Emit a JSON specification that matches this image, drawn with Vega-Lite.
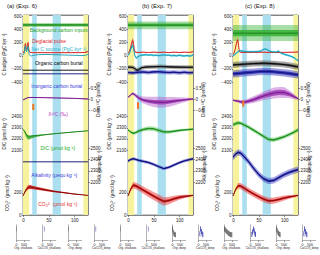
{
"$schema":"https://vega.github.io/schema/vega-lite/v6.json",
"padding":{"left":-18,"top":2,"right":18,"bottom":0},
"spacing":2,
"vconcat":[
{"hconcat":[
{"width":1,"height":200,"view":{"stroke":null},"data":{"values":[]},"mark":{"type":"point"}},
{"width":65,"height":200,
"title":{"text":"(a) (Exp. 6)","anchor":"start","frame":"group","dx":-16,"offset":4.5},
"layer":[
{"data":{"name":"bands"},"transform":[{"filter":"datum.k=='yel'"}],"mark":{"type":"rect","color":"#f7f39c"},"encoding":{"x":{"field":"x0","type":"quantitative","scale":{"domain":[0,127],"nice":false},"axis":{"values":[0,50,100],"title":null}},"x2":{"field":"x1"}}},
{"data":{"name":"bands"},"transform":[{"filter":"datum.k=='blu'"}],"mark":{"type":"rect","color":"#abdff0"},"encoding":{"x":{"field":"x0","type":"quantitative","scale":{"domain":[0,127],"nice":false},"axis":{"values":[0,50,100],"title":null}},"x2":{"field":"x1"}}},
{"data":{"name":"cb"},"transform":[{"filter":"datum.c=='a'"}],"layer":[
{"mark":{"type":"area","opacity":0.45},"encoding":{"x":{"field":"x","type":"quantitative","scale":{"domain":[0,127],"nice":false},"axis":{"values":[0,50,100],"title":null}},"y":{"field":"L","type":"quantitative","stack":null,"scale":{"domain":[-550,600],"range":[77,1],"nice":false},"axis":{"orient":"left","values":[-400,-200,0,200,400,600],"title":"C budget (PgC kyr⁻¹)"}},"y2":{"field":"H"},"fill":{"field":"s","type":"nominal","scale":{"domain":["grn","red","cyn","org","inorg"],"range":["#3cb43c","#f07070","#5ccbe0","#444444","#2c2cb4"]},"legend":null}}},
{"mark":{"type":"area","opacity":0.9},"encoding":{"x":{"field":"x","type":"quantitative","scale":{"domain":[0,127],"nice":false},"axis":{"values":[0,50,100],"title":null}},"y":{"field":"l","type":"quantitative","stack":null,"scale":{"domain":[-550,600],"range":[77,1],"nice":false},"axis":{"orient":"left","values":[-400,-200,0,200,400,600],"title":"C budget (PgC kyr⁻¹)"}},"y2":{"field":"h"},"fill":{"field":"s","type":"nominal","scale":{"domain":["grn","red","cyn","org","inorg"],"range":["#3cb43c","#f07070","#5ccbe0","#444444","#2c2cb4"]},"legend":null}}},
{"mark":{"type":"line","strokeWidth":0.9},"encoding":{"x":{"field":"x","type":"quantitative","scale":{"domain":[0,127],"nice":false},"axis":{"values":[0,50,100],"title":null}},"y":{"field":"m","type":"quantitative","scale":{"domain":[-550,600],"range":[77,1],"nice":false},"axis":{"orient":"left","values":[-400,-200,0,200,400,600],"title":"C budget (PgC kyr⁻¹)"}},"stroke":{"field":"s","type":"nominal","scale":{"domain":["grn","red","cyn","org","inorg"],"range":["#177a17","#d42020","#109cb0","#000000","#0c0c78"]},"legend":null}}},
{"data":{"name":"txt"},"transform":[{"filter":"datum.c=='a' && datum.g=='cb'"}],"mark":{"type":"text","fontSize":5},"encoding":{"x":{"field":"x","type":"quantitative","scale":{"domain":[0,127],"nice":false},"axis":{"values":[0,50,100],"title":null}},"y":{"field":"y","type":"quantitative","scale":{"domain":[-550,600],"range":[77,1],"nice":false},"axis":{"orient":"left","values":[-400,-200,0,200,400,600],"title":"C budget (PgC kyr⁻¹)"}},"text":{"field":"t"},"color":{"field":"s","type":"nominal","scale":{"domain":["grn","red","cyn","org","inorg"],"range":["#2ca02c","#e3262b","#1fb0c9","#000000","#3b3bd6"]},"legend":null}}}
]},
{"data":{"name":"d13"},"transform":[{"filter":"datum.c=='a'"}],"layer":[
{"mark":{"type":"area","color":"#b455c8","opacity":0.45},"encoding":{"x":{"field":"x","type":"quantitative","scale":{"domain":[0,127],"nice":false},"axis":{"values":[0,50,100],"title":null}},"y":{"field":"L","type":"quantitative","stack":null,"scale":{"domain":[-0.5,0.5],"range":[95,73],"nice":false},"axis":{"orient":"right","values":[-0.5,0,0.5],"format":".1~f","title":"Delta ¹³C (permil)","titleAngle":270}},"y2":{"field":"H"}}},
{"mark":{"type":"area","color":"#a03ab5","opacity":0.85},"encoding":{"x":{"field":"x","type":"quantitative","scale":{"domain":[0,127],"nice":false},"axis":{"values":[0,50,100],"title":null}},"y":{"field":"l","type":"quantitative","stack":null,"scale":{"domain":[-0.5,0.5],"range":[95,73],"nice":false},"axis":{"orient":"right","values":[-0.5,0,0.5],"format":".1~f","title":"Delta ¹³C (permil)","titleAngle":270}},"y2":{"field":"h"}}},
{"mark":{"type":"line","color":"#6a0a7a","strokeWidth":0.8},"encoding":{"x":{"field":"x","type":"quantitative","scale":{"domain":[0,127],"nice":false},"axis":{"values":[0,50,100],"title":null}},"y":{"field":"m","type":"quantitative","scale":{"domain":[-0.5,0.5],"range":[95,73],"nice":false},"axis":{"orient":"right","values":[-0.5,0,0.5],"format":".1~f","title":"Delta ¹³C (permil)","titleAngle":270}}}},
{"data":{"name":"mk"},"transform":[{"filter":"datum.c=='a'"}],"mark":{"type":"rule","color":"#ee7722","strokeWidth":2},"encoding":{"x":{"field":"x","type":"quantitative","scale":{"domain":[0,127],"nice":false},"axis":{"values":[0,50,100],"title":null}},"y":{"field":"l","type":"quantitative","scale":{"domain":[-0.5,0.5],"range":[95,73],"nice":false},"axis":{"orient":"right","values":[-0.5,0,0.5],"format":".1~f","title":"Delta ¹³C (permil)","titleAngle":270}},"y2":{"field":"h"}}},
{"data":{"name":"txt"},"transform":[{"filter":"datum.c=='a' && datum.g=='d13'"}],"mark":{"type":"text","fontSize":5,"color":"#c040c0"},"encoding":{"x":{"field":"x","type":"quantitative","scale":{"domain":[0,127],"nice":false},"axis":{"values":[0,50,100],"title":null}},"y":{"field":"y","type":"quantitative","scale":{"domain":[-0.5,0.5],"range":[95,73],"nice":false},"axis":{"orient":"right","values":[-0.5,0,0.5],"format":".1~f","title":"Delta ¹³C (permil)","titleAngle":270}},"text":{"field":"t"}}}
]},
{"data":{"name":"dic"},"transform":[{"filter":"datum.c=='a'"}],"layer":[
{"mark":{"type":"area","color":"#44bb44","opacity":0.45},"encoding":{"x":{"field":"x","type":"quantitative","scale":{"domain":[0,127],"nice":false},"axis":{"values":[0,50,100],"title":null}},"y":{"field":"L","type":"quantitative","stack":null,"scale":{"domain":[2100,2400],"range":[135.3,101.3],"nice":false},"axis":{"orient":"left","values":[2100,2200,2300,2400],"title":"DIC (μmol kg⁻¹)"}},"y2":{"field":"H"}}},
{"mark":{"type":"area","color":"#2eaa2e","opacity":0.85},"encoding":{"x":{"field":"x","type":"quantitative","scale":{"domain":[0,127],"nice":false},"axis":{"values":[0,50,100],"title":null}},"y":{"field":"l","type":"quantitative","stack":null,"scale":{"domain":[2100,2400],"range":[135.3,101.3],"nice":false},"axis":{"orient":"left","values":[2100,2200,2300,2400],"title":"DIC (μmol kg⁻¹)"}},"y2":{"field":"h"}}},
{"mark":{"type":"line","color":"#137a13","strokeWidth":0.8},"encoding":{"x":{"field":"x","type":"quantitative","scale":{"domain":[0,127],"nice":false},"axis":{"values":[0,50,100],"title":null}},"y":{"field":"m","type":"quantitative","scale":{"domain":[2100,2400],"range":[135.3,101.3],"nice":false},"axis":{"orient":"left","values":[2100,2200,2300,2400],"title":"DIC (μmol kg⁻¹)"}}}},
{"data":{"name":"txt"},"transform":[{"filter":"datum.c=='a' && datum.g=='dic'"}],"mark":{"type":"text","fontSize":5,"color":"#22aa22"},"encoding":{"x":{"field":"x","type":"quantitative","scale":{"domain":[0,127],"nice":false},"axis":{"values":[0,50,100],"title":null}},"y":{"field":"y","type":"quantitative","scale":{"domain":[2100,2400],"range":[135.3,101.3],"nice":false},"axis":{"orient":"left","values":[2100,2200,2300,2400],"title":"DIC (μmol kg⁻¹)"}},"text":{"field":"t"}}}
]},
{"data":{"name":"alk"},"transform":[{"filter":"datum.c=='a'"}],"layer":[
{"mark":{"type":"area","color":"#3535c0","opacity":0.45},"encoding":{"x":{"field":"x","type":"quantitative","scale":{"domain":[0,127],"nice":false},"axis":{"values":[0,50,100],"title":null}},"y":{"field":"L","type":"quantitative","stack":null,"scale":{"domain":[2200,2500],"range":[167,133],"nice":false},"axis":{"orient":"right","values":[2200,2300,2400,2500],"title":"Alk (μequ kg⁻¹)","titleAngle":270}},"y2":{"field":"H"}}},
{"mark":{"type":"area","color":"#2525a8","opacity":0.9},"encoding":{"x":{"field":"x","type":"quantitative","scale":{"domain":[0,127],"nice":false},"axis":{"values":[0,50,100],"title":null}},"y":{"field":"l","type":"quantitative","stack":null,"scale":{"domain":[2200,2500],"range":[167,133],"nice":false},"axis":{"orient":"right","values":[2200,2300,2400,2500],"title":"Alk (μequ kg⁻¹)","titleAngle":270}},"y2":{"field":"h"}}},
{"mark":{"type":"line","color":"#0a0a6a","strokeWidth":0.9},"encoding":{"x":{"field":"x","type":"quantitative","scale":{"domain":[0,127],"nice":false},"axis":{"values":[0,50,100],"title":null}},"y":{"field":"m","type":"quantitative","scale":{"domain":[2200,2500],"range":[167,133],"nice":false},"axis":{"orient":"right","values":[2200,2300,2400,2500],"title":"Alk (μequ kg⁻¹)","titleAngle":270}}}},
{"data":{"name":"txt"},"transform":[{"filter":"datum.c=='a' && datum.g=='alk'"}],"mark":{"type":"text","fontSize":5,"color":"#3b3bd6"},"encoding":{"x":{"field":"x","type":"quantitative","scale":{"domain":[0,127],"nice":false},"axis":{"values":[0,50,100],"title":null}},"y":{"field":"y","type":"quantitative","scale":{"domain":[2200,2500],"range":[167,133],"nice":false},"axis":{"orient":"right","values":[2200,2300,2400,2500],"title":"Alk (μequ kg⁻¹)","titleAngle":270}},"text":{"field":"t"}}}
]},
{"data":{"name":"co3"},"transform":[{"filter":"datum.c=='a'"}],"layer":[
{"mark":{"type":"area","color":"#ee3333","opacity":0.5},"encoding":{"x":{"field":"x","type":"quantitative","scale":{"domain":[0,127],"nice":false},"axis":{"values":[0,50,100],"title":null}},"y":{"field":"L","type":"quantitative","stack":null,"scale":{"domain":[0,400],"range":[200,155.4],"nice":false},"axis":{"orient":"left","values":[0,200],"title":"CO₃²⁻ (μmol kg⁻¹)"}},"y2":{"field":"H"}}},
{"mark":{"type":"area","color":"#d42020","opacity":0.9},"encoding":{"x":{"field":"x","type":"quantitative","scale":{"domain":[0,127],"nice":false},"axis":{"values":[0,50,100],"title":null}},"y":{"field":"l","type":"quantitative","stack":null,"scale":{"domain":[0,400],"range":[200,155.4],"nice":false},"axis":{"orient":"left","values":[0,200],"title":"CO₃²⁻ (μmol kg⁻¹)"}},"y2":{"field":"h"}}},
{"mark":{"type":"line","color":"#7a0000","strokeWidth":0.9},"encoding":{"x":{"field":"x","type":"quantitative","scale":{"domain":[0,127],"nice":false},"axis":{"values":[0,50,100],"title":null}},"y":{"field":"m","type":"quantitative","scale":{"domain":[0,400],"range":[200,155.4],"nice":false},"axis":{"orient":"left","values":[0,200],"title":"CO₃²⁻ (μmol kg⁻¹)"}}}},
{"data":{"name":"txt"},"transform":[{"filter":"datum.c=='a' && datum.g=='co3'"}],"mark":{"type":"text","fontSize":5,"color":"#e03030"},"encoding":{"x":{"field":"x","type":"quantitative","scale":{"domain":[0,127],"nice":false},"axis":{"values":[0,50,100],"title":null}},"y":{"field":"y","type":"quantitative","scale":{"domain":[0,400],"range":[200,155.4],"nice":false},"axis":{"orient":"left","values":[0,200],"title":"CO₃²⁻ (μmol kg⁻¹)"}},"text":{"field":"t"}}}
]}
],
"resolve":{"scale":{"y":"independent"}}},
{"width":65,"height":200,
"title":{"text":"(b) (Exp. 7)","anchor":"start","frame":"group","dx":14,"offset":4.5},
"layer":[
{"data":{"name":"bands"},"transform":[{"filter":"datum.k=='yel'"}],"mark":{"type":"rect","color":"#f7f39c"},"encoding":{"x":{"field":"x0","type":"quantitative","scale":{"domain":[0,127],"nice":false},"axis":{"values":[0,50,100],"title":null}},"x2":{"field":"x1"}}},
{"data":{"name":"bands"},"transform":[{"filter":"datum.k=='blu'"}],"mark":{"type":"rect","color":"#abdff0"},"encoding":{"x":{"field":"x0","type":"quantitative","scale":{"domain":[0,127],"nice":false},"axis":{"values":[0,50,100],"title":null}},"x2":{"field":"x1"}}},
{"data":{"name":"cb"},"transform":[{"filter":"datum.c=='b'"}],"layer":[
{"mark":{"type":"area","opacity":0.45},"encoding":{"x":{"field":"x","type":"quantitative","scale":{"domain":[0,127],"nice":false},"axis":{"values":[0,50,100],"title":null}},"y":{"field":"L","type":"quantitative","stack":null,"scale":{"domain":[-550,600],"range":[77,1],"nice":false},"axis":{"orient":"left","values":[-400,-200,0,200,400,600],"title":"C budget (PgC kyr⁻¹)"}},"y2":{"field":"H"},"fill":{"field":"s","type":"nominal","scale":{"domain":["grn","red","cyn","org","inorg"],"range":["#3cb43c","#f07070","#5ccbe0","#444444","#2c2cb4"]},"legend":null}}},
{"mark":{"type":"area","opacity":0.9},"encoding":{"x":{"field":"x","type":"quantitative","scale":{"domain":[0,127],"nice":false},"axis":{"values":[0,50,100],"title":null}},"y":{"field":"l","type":"quantitative","stack":null,"scale":{"domain":[-550,600],"range":[77,1],"nice":false},"axis":{"orient":"left","values":[-400,-200,0,200,400,600],"title":"C budget (PgC kyr⁻¹)"}},"y2":{"field":"h"},"fill":{"field":"s","type":"nominal","scale":{"domain":["grn","red","cyn","org","inorg"],"range":["#3cb43c","#f07070","#5ccbe0","#444444","#2c2cb4"]},"legend":null}}},
{"mark":{"type":"line","strokeWidth":0.9},"encoding":{"x":{"field":"x","type":"quantitative","scale":{"domain":[0,127],"nice":false},"axis":{"values":[0,50,100],"title":null}},"y":{"field":"m","type":"quantitative","scale":{"domain":[-550,600],"range":[77,1],"nice":false},"axis":{"orient":"left","values":[-400,-200,0,200,400,600],"title":"C budget (PgC kyr⁻¹)"}},"stroke":{"field":"s","type":"nominal","scale":{"domain":["grn","red","cyn","org","inorg"],"range":["#177a17","#d42020","#109cb0","#000000","#0c0c78"]},"legend":null}}}
]},
{"data":{"name":"d13"},"transform":[{"filter":"datum.c=='b'"}],"layer":[
{"mark":{"type":"area","color":"#b455c8","opacity":0.45},"encoding":{"x":{"field":"x","type":"quantitative","scale":{"domain":[0,127],"nice":false},"axis":{"values":[0,50,100],"title":null}},"y":{"field":"L","type":"quantitative","stack":null,"scale":{"domain":[-0.5,0.5],"range":[95,73],"nice":false},"axis":{"orient":"right","values":[-0.5,0,0.5],"format":".1~f","title":"Delta ¹³C (permil)","titleAngle":270}},"y2":{"field":"H"}}},
{"mark":{"type":"area","color":"#a03ab5","opacity":0.85},"encoding":{"x":{"field":"x","type":"quantitative","scale":{"domain":[0,127],"nice":false},"axis":{"values":[0,50,100],"title":null}},"y":{"field":"l","type":"quantitative","stack":null,"scale":{"domain":[-0.5,0.5],"range":[95,73],"nice":false},"axis":{"orient":"right","values":[-0.5,0,0.5],"format":".1~f","title":"Delta ¹³C (permil)","titleAngle":270}},"y2":{"field":"h"}}},
{"mark":{"type":"line","color":"#6a0a7a","strokeWidth":0.8},"encoding":{"x":{"field":"x","type":"quantitative","scale":{"domain":[0,127],"nice":false},"axis":{"values":[0,50,100],"title":null}},"y":{"field":"m","type":"quantitative","scale":{"domain":[-0.5,0.5],"range":[95,73],"nice":false},"axis":{"orient":"right","values":[-0.5,0,0.5],"format":".1~f","title":"Delta ¹³C (permil)","titleAngle":270}}}},
{"data":{"name":"mk"},"transform":[{"filter":"datum.c=='b'"}],"mark":{"type":"rule","color":"#ee7722","strokeWidth":2},"encoding":{"x":{"field":"x","type":"quantitative","scale":{"domain":[0,127],"nice":false},"axis":{"values":[0,50,100],"title":null}},"y":{"field":"l","type":"quantitative","scale":{"domain":[-0.5,0.5],"range":[95,73],"nice":false},"axis":{"orient":"right","values":[-0.5,0,0.5],"format":".1~f","title":"Delta ¹³C (permil)","titleAngle":270}},"y2":{"field":"h"}}}
]},
{"data":{"name":"dic"},"transform":[{"filter":"datum.c=='b'"}],"layer":[
{"mark":{"type":"area","color":"#44bb44","opacity":0.45},"encoding":{"x":{"field":"x","type":"quantitative","scale":{"domain":[0,127],"nice":false},"axis":{"values":[0,50,100],"title":null}},"y":{"field":"L","type":"quantitative","stack":null,"scale":{"domain":[2100,2400],"range":[135.3,101.3],"nice":false},"axis":{"orient":"left","values":[2100,2200,2300,2400],"title":"DIC (μmol kg⁻¹)"}},"y2":{"field":"H"}}},
{"mark":{"type":"area","color":"#2eaa2e","opacity":0.85},"encoding":{"x":{"field":"x","type":"quantitative","scale":{"domain":[0,127],"nice":false},"axis":{"values":[0,50,100],"title":null}},"y":{"field":"l","type":"quantitative","stack":null,"scale":{"domain":[2100,2400],"range":[135.3,101.3],"nice":false},"axis":{"orient":"left","values":[2100,2200,2300,2400],"title":"DIC (μmol kg⁻¹)"}},"y2":{"field":"h"}}},
{"mark":{"type":"line","color":"#137a13","strokeWidth":0.8},"encoding":{"x":{"field":"x","type":"quantitative","scale":{"domain":[0,127],"nice":false},"axis":{"values":[0,50,100],"title":null}},"y":{"field":"m","type":"quantitative","scale":{"domain":[2100,2400],"range":[135.3,101.3],"nice":false},"axis":{"orient":"left","values":[2100,2200,2300,2400],"title":"DIC (μmol kg⁻¹)"}}}}
]},
{"data":{"name":"alk"},"transform":[{"filter":"datum.c=='b'"}],"layer":[
{"mark":{"type":"area","color":"#3535c0","opacity":0.45},"encoding":{"x":{"field":"x","type":"quantitative","scale":{"domain":[0,127],"nice":false},"axis":{"values":[0,50,100],"title":null}},"y":{"field":"L","type":"quantitative","stack":null,"scale":{"domain":[2200,2500],"range":[167,133],"nice":false},"axis":{"orient":"right","values":[2200,2300,2400,2500],"title":"Alk (μequ kg⁻¹)","titleAngle":270}},"y2":{"field":"H"}}},
{"mark":{"type":"area","color":"#2525a8","opacity":0.9},"encoding":{"x":{"field":"x","type":"quantitative","scale":{"domain":[0,127],"nice":false},"axis":{"values":[0,50,100],"title":null}},"y":{"field":"l","type":"quantitative","stack":null,"scale":{"domain":[2200,2500],"range":[167,133],"nice":false},"axis":{"orient":"right","values":[2200,2300,2400,2500],"title":"Alk (μequ kg⁻¹)","titleAngle":270}},"y2":{"field":"h"}}},
{"mark":{"type":"line","color":"#0a0a6a","strokeWidth":0.9},"encoding":{"x":{"field":"x","type":"quantitative","scale":{"domain":[0,127],"nice":false},"axis":{"values":[0,50,100],"title":null}},"y":{"field":"m","type":"quantitative","scale":{"domain":[2200,2500],"range":[167,133],"nice":false},"axis":{"orient":"right","values":[2200,2300,2400,2500],"title":"Alk (μequ kg⁻¹)","titleAngle":270}}}}
]},
{"data":{"name":"co3"},"transform":[{"filter":"datum.c=='b'"}],"layer":[
{"mark":{"type":"area","color":"#ee3333","opacity":0.5},"encoding":{"x":{"field":"x","type":"quantitative","scale":{"domain":[0,127],"nice":false},"axis":{"values":[0,50,100],"title":null}},"y":{"field":"L","type":"quantitative","stack":null,"scale":{"domain":[0,400],"range":[200,155.4],"nice":false},"axis":{"orient":"left","values":[0,200],"title":"CO₃²⁻ (μmol kg⁻¹)"}},"y2":{"field":"H"}}},
{"mark":{"type":"area","color":"#d42020","opacity":0.9},"encoding":{"x":{"field":"x","type":"quantitative","scale":{"domain":[0,127],"nice":false},"axis":{"values":[0,50,100],"title":null}},"y":{"field":"l","type":"quantitative","stack":null,"scale":{"domain":[0,400],"range":[200,155.4],"nice":false},"axis":{"orient":"left","values":[0,200],"title":"CO₃²⁻ (μmol kg⁻¹)"}},"y2":{"field":"h"}}},
{"mark":{"type":"line","color":"#7a0000","strokeWidth":0.9},"encoding":{"x":{"field":"x","type":"quantitative","scale":{"domain":[0,127],"nice":false},"axis":{"values":[0,50,100],"title":null}},"y":{"field":"m","type":"quantitative","scale":{"domain":[0,400],"range":[200,155.4],"nice":false},"axis":{"orient":"left","values":[0,200],"title":"CO₃²⁻ (μmol kg⁻¹)"}}}}
]}
],
"resolve":{"scale":{"y":"independent"}}},
{"width":65,"height":200,
"title":{"text":"(c) (Exp. 8)","anchor":"start","frame":"group","dx":12,"offset":4.5},
"layer":[
{"data":{"name":"bands"},"transform":[{"filter":"datum.k=='yel'"}],"mark":{"type":"rect","color":"#f7f39c"},"encoding":{"x":{"field":"x0","type":"quantitative","scale":{"domain":[0,127],"nice":false},"axis":{"values":[0,50,100],"title":null}},"x2":{"field":"x1"}}},
{"data":{"name":"bands"},"transform":[{"filter":"datum.k=='blu'"}],"mark":{"type":"rect","color":"#abdff0"},"encoding":{"x":{"field":"x0","type":"quantitative","scale":{"domain":[0,127],"nice":false},"axis":{"values":[0,50,100],"title":null}},"x2":{"field":"x1"}}},
{"data":{"name":"cb"},"transform":[{"filter":"datum.c=='c'"}],"layer":[
{"mark":{"type":"area","opacity":0.45},"encoding":{"x":{"field":"x","type":"quantitative","scale":{"domain":[0,127],"nice":false},"axis":{"values":[0,50,100],"title":null}},"y":{"field":"L","type":"quantitative","stack":null,"scale":{"domain":[-550,600],"range":[77,1],"nice":false},"axis":{"orient":"left","values":[-400,-200,0,200,400,600],"title":"C budget (PgC kyr⁻¹)"}},"y2":{"field":"H"},"fill":{"field":"s","type":"nominal","scale":{"domain":["grn","red","cyn","org","inorg"],"range":["#3cb43c","#f07070","#5ccbe0","#444444","#2c2cb4"]},"legend":null}}},
{"mark":{"type":"area","opacity":0.9},"encoding":{"x":{"field":"x","type":"quantitative","scale":{"domain":[0,127],"nice":false},"axis":{"values":[0,50,100],"title":null}},"y":{"field":"l","type":"quantitative","stack":null,"scale":{"domain":[-550,600],"range":[77,1],"nice":false},"axis":{"orient":"left","values":[-400,-200,0,200,400,600],"title":"C budget (PgC kyr⁻¹)"}},"y2":{"field":"h"},"fill":{"field":"s","type":"nominal","scale":{"domain":["grn","red","cyn","org","inorg"],"range":["#3cb43c","#f07070","#5ccbe0","#444444","#2c2cb4"]},"legend":null}}},
{"mark":{"type":"line","strokeWidth":0.9},"encoding":{"x":{"field":"x","type":"quantitative","scale":{"domain":[0,127],"nice":false},"axis":{"values":[0,50,100],"title":null}},"y":{"field":"m","type":"quantitative","scale":{"domain":[-550,600],"range":[77,1],"nice":false},"axis":{"orient":"left","values":[-400,-200,0,200,400,600],"title":"C budget (PgC kyr⁻¹)"}},"stroke":{"field":"s","type":"nominal","scale":{"domain":["grn","red","cyn","org","inorg"],"range":["#177a17","#d42020","#109cb0","#000000","#0c0c78"]},"legend":null}}}
]},
{"data":{"name":"d13"},"transform":[{"filter":"datum.c=='c'"}],"layer":[
{"mark":{"type":"area","color":"#b455c8","opacity":0.45},"encoding":{"x":{"field":"x","type":"quantitative","scale":{"domain":[0,127],"nice":false},"axis":{"values":[0,50,100],"title":null}},"y":{"field":"L","type":"quantitative","stack":null,"scale":{"domain":[-0.5,0.5],"range":[95,73],"nice":false},"axis":{"orient":"right","values":[-0.5,0,0.5],"format":".1~f","title":"Delta ¹³C (permil)","titleAngle":270}},"y2":{"field":"H"}}},
{"mark":{"type":"area","color":"#a03ab5","opacity":0.85},"encoding":{"x":{"field":"x","type":"quantitative","scale":{"domain":[0,127],"nice":false},"axis":{"values":[0,50,100],"title":null}},"y":{"field":"l","type":"quantitative","stack":null,"scale":{"domain":[-0.5,0.5],"range":[95,73],"nice":false},"axis":{"orient":"right","values":[-0.5,0,0.5],"format":".1~f","title":"Delta ¹³C (permil)","titleAngle":270}},"y2":{"field":"h"}}},
{"mark":{"type":"line","color":"#6a0a7a","strokeWidth":0.8},"encoding":{"x":{"field":"x","type":"quantitative","scale":{"domain":[0,127],"nice":false},"axis":{"values":[0,50,100],"title":null}},"y":{"field":"m","type":"quantitative","scale":{"domain":[-0.5,0.5],"range":[95,73],"nice":false},"axis":{"orient":"right","values":[-0.5,0,0.5],"format":".1~f","title":"Delta ¹³C (permil)","titleAngle":270}}}},
{"data":{"name":"mk"},"transform":[{"filter":"datum.c=='c'"}],"mark":{"type":"rule","color":"#ee7722","strokeWidth":2},"encoding":{"x":{"field":"x","type":"quantitative","scale":{"domain":[0,127],"nice":false},"axis":{"values":[0,50,100],"title":null}},"y":{"field":"l","type":"quantitative","scale":{"domain":[-0.5,0.5],"range":[95,73],"nice":false},"axis":{"orient":"right","values":[-0.5,0,0.5],"format":".1~f","title":"Delta ¹³C (permil)","titleAngle":270}},"y2":{"field":"h"}}}
]},
{"data":{"name":"dic"},"transform":[{"filter":"datum.c=='c'"}],"layer":[
{"mark":{"type":"area","color":"#44bb44","opacity":0.45},"encoding":{"x":{"field":"x","type":"quantitative","scale":{"domain":[0,127],"nice":false},"axis":{"values":[0,50,100],"title":null}},"y":{"field":"L","type":"quantitative","stack":null,"scale":{"domain":[2100,2400],"range":[135.3,101.3],"nice":false},"axis":{"orient":"left","values":[2100,2200,2300,2400],"title":"DIC (μmol kg⁻¹)"}},"y2":{"field":"H"}}},
{"mark":{"type":"area","color":"#2eaa2e","opacity":0.85},"encoding":{"x":{"field":"x","type":"quantitative","scale":{"domain":[0,127],"nice":false},"axis":{"values":[0,50,100],"title":null}},"y":{"field":"l","type":"quantitative","stack":null,"scale":{"domain":[2100,2400],"range":[135.3,101.3],"nice":false},"axis":{"orient":"left","values":[2100,2200,2300,2400],"title":"DIC (μmol kg⁻¹)"}},"y2":{"field":"h"}}},
{"mark":{"type":"line","color":"#137a13","strokeWidth":0.8},"encoding":{"x":{"field":"x","type":"quantitative","scale":{"domain":[0,127],"nice":false},"axis":{"values":[0,50,100],"title":null}},"y":{"field":"m","type":"quantitative","scale":{"domain":[2100,2400],"range":[135.3,101.3],"nice":false},"axis":{"orient":"left","values":[2100,2200,2300,2400],"title":"DIC (μmol kg⁻¹)"}}}}
]},
{"data":{"name":"alk"},"transform":[{"filter":"datum.c=='c'"}],"layer":[
{"mark":{"type":"area","color":"#3535c0","opacity":0.45},"encoding":{"x":{"field":"x","type":"quantitative","scale":{"domain":[0,127],"nice":false},"axis":{"values":[0,50,100],"title":null}},"y":{"field":"L","type":"quantitative","stack":null,"scale":{"domain":[2200,2500],"range":[167,133],"nice":false},"axis":{"orient":"right","values":[2200,2300,2400,2500],"title":"Alk (μequ kg⁻¹)","titleAngle":270}},"y2":{"field":"H"}}},
{"mark":{"type":"area","color":"#2525a8","opacity":0.9},"encoding":{"x":{"field":"x","type":"quantitative","scale":{"domain":[0,127],"nice":false},"axis":{"values":[0,50,100],"title":null}},"y":{"field":"l","type":"quantitative","stack":null,"scale":{"domain":[2200,2500],"range":[167,133],"nice":false},"axis":{"orient":"right","values":[2200,2300,2400,2500],"title":"Alk (μequ kg⁻¹)","titleAngle":270}},"y2":{"field":"h"}}},
{"mark":{"type":"line","color":"#0a0a6a","strokeWidth":0.9},"encoding":{"x":{"field":"x","type":"quantitative","scale":{"domain":[0,127],"nice":false},"axis":{"values":[0,50,100],"title":null}},"y":{"field":"m","type":"quantitative","scale":{"domain":[2200,2500],"range":[167,133],"nice":false},"axis":{"orient":"right","values":[2200,2300,2400,2500],"title":"Alk (μequ kg⁻¹)","titleAngle":270}}}}
]},
{"data":{"name":"co3"},"transform":[{"filter":"datum.c=='c'"}],"layer":[
{"mark":{"type":"area","color":"#ee3333","opacity":0.5},"encoding":{"x":{"field":"x","type":"quantitative","scale":{"domain":[0,127],"nice":false},"axis":{"values":[0,50,100],"title":null}},"y":{"field":"L","type":"quantitative","stack":null,"scale":{"domain":[0,400],"range":[200,155.4],"nice":false},"axis":{"orient":"left","values":[0,200],"title":"CO₃²⁻ (μmol kg⁻¹)"}},"y2":{"field":"H"}}},
{"mark":{"type":"area","color":"#d42020","opacity":0.9},"encoding":{"x":{"field":"x","type":"quantitative","scale":{"domain":[0,127],"nice":false},"axis":{"values":[0,50,100],"title":null}},"y":{"field":"l","type":"quantitative","stack":null,"scale":{"domain":[0,400],"range":[200,155.4],"nice":false},"axis":{"orient":"left","values":[0,200],"title":"CO₃²⁻ (μmol kg⁻¹)"}},"y2":{"field":"h"}}},
{"mark":{"type":"line","color":"#7a0000","strokeWidth":0.9},"encoding":{"x":{"field":"x","type":"quantitative","scale":{"domain":[0,127],"nice":false},"axis":{"values":[0,50,100],"title":null}},"y":{"field":"m","type":"quantitative","scale":{"domain":[0,400],"range":[200,155.4],"nice":false},"axis":{"orient":"left","values":[0,200],"title":"CO₃²⁻ (μmol kg⁻¹)"}}}}
]}
],
"resolve":{"scale":{"y":"independent"}}}
],"spacing":40,"bounds":"flush"},
{"hconcat":[
{"width":21.45,"height":16,"view":{"stroke":null},"data":{"values":[]},"mark":{"type":"point"}},
{"width":13.5,"height":16,"view":{"stroke":null},"data":{"name":"hist"},"transform":[{"filter":"datum.c=='a' && datum.p=='os'"}],"mark":{"type":"bar","color":"#555555"},"encoding":{"x":{"field":"x0","type":"quantitative","scale":{"domain":[0,900],"nice":false},"axis":{"values":[0,500],"title":"Org. shallows","labelFontSize":3.5,"titleFontSize":3,"tickSize":1.5,"labelPadding":0.5,"titlePadding":1,"domain":true,"domainWidth":0.5,"domainColor":"#666"}},"x2":{"field":"x1"},"y":{"field":"n","type":"quantitative","scale":{"domain":[0,1],"nice":false},"axis":{"labels":false,"ticks":false,"title":null,"domain":true,"domainWidth":0.5,"domainColor":"#666"}}}},
{"width":13.5,"height":16,"view":{"stroke":null},"data":{"name":"hist"},"transform":[{"filter":"datum.c=='a' && datum.p=='cs'"}],"mark":{"type":"bar","color":"#2a2aa8"},"encoding":{"x":{"field":"x0","type":"quantitative","scale":{"domain":[0,900],"nice":false},"axis":{"values":[0,500],"title":"CaCO3_shallows","labelFontSize":3.5,"titleFontSize":3,"tickSize":1.5,"labelPadding":0.5,"titlePadding":1,"domain":true,"domainWidth":0.5,"domainColor":"#666"}},"x2":{"field":"x1"},"y":{"field":"n","type":"quantitative","scale":{"domain":[0,1],"nice":false},"axis":{"labels":false,"ticks":false,"title":null,"domain":true,"domainWidth":0.5,"domainColor":"#666"}}}},
{"width":13.5,"height":16,"view":{"stroke":null},"data":{"name":"hist"},"transform":[{"filter":"datum.c=='a' && datum.p=='od'"}],"mark":{"type":"bar","color":"#555555"},"encoding":{"x":{"field":"x0","type":"quantitative","scale":{"domain":[0,900],"nice":false},"axis":{"values":[0,500],"title":"Org. deep","labelFontSize":3.5,"titleFontSize":3,"tickSize":1.5,"labelPadding":0.5,"titlePadding":1,"domain":true,"domainWidth":0.5,"domainColor":"#666"}},"x2":{"field":"x1"},"y":{"field":"n","type":"quantitative","scale":{"domain":[0,1],"nice":false},"axis":{"labels":false,"ticks":false,"title":null,"domain":true,"domainWidth":0.5,"domainColor":"#666"}}}},
{"width":13.5,"height":16,"view":{"stroke":null},"data":{"name":"hist"},"transform":[{"filter":"datum.c=='a' && datum.p=='cd'"}],"mark":{"type":"bar","color":"#2a2aa8"},"encoding":{"x":{"field":"x0","type":"quantitative","scale":{"domain":[0,900],"nice":false},"axis":{"values":[0,500],"title":"CaCO3_deep","labelFontSize":3.5,"titleFontSize":3,"tickSize":1.5,"labelPadding":0.5,"titlePadding":1,"domain":true,"domainWidth":0.5,"domainColor":"#666"}},"x2":{"field":"x1"},"y":{"field":"n","type":"quantitative","scale":{"domain":[0,1],"nice":false},"axis":{"labels":false,"ticks":false,"title":null,"domain":true,"domainWidth":0.5,"domainColor":"#666"}}}},
{"width":13.5,"height":16,"view":{"stroke":null},"data":{"name":"hist"},"transform":[{"filter":"datum.c=='b' && datum.p=='os'"}],"mark":{"type":"bar","color":"#555555"},"encoding":{"x":{"field":"x0","type":"quantitative","scale":{"domain":[0,900],"nice":false},"axis":{"values":[0,500],"title":"Org. shallows","labelFontSize":3.5,"titleFontSize":3,"tickSize":1.5,"labelPadding":0.5,"titlePadding":1,"domain":true,"domainWidth":0.5,"domainColor":"#666"}},"x2":{"field":"x1"},"y":{"field":"n","type":"quantitative","scale":{"domain":[0,1],"nice":false},"axis":{"labels":false,"ticks":false,"title":null,"domain":true,"domainWidth":0.5,"domainColor":"#666"}}}},
{"width":13.5,"height":16,"view":{"stroke":null},"data":{"name":"hist"},"transform":[{"filter":"datum.c=='b' && datum.p=='cs'"}],"mark":{"type":"bar","color":"#2a2aa8"},"encoding":{"x":{"field":"x0","type":"quantitative","scale":{"domain":[0,900],"nice":false},"axis":{"values":[0,500],"title":"CaCO3_shallows","labelFontSize":3.5,"titleFontSize":3,"tickSize":1.5,"labelPadding":0.5,"titlePadding":1,"domain":true,"domainWidth":0.5,"domainColor":"#666"}},"x2":{"field":"x1"},"y":{"field":"n","type":"quantitative","scale":{"domain":[0,1],"nice":false},"axis":{"labels":false,"ticks":false,"title":null,"domain":true,"domainWidth":0.5,"domainColor":"#666"}}}},
{"width":13.5,"height":16,"view":{"stroke":null},"data":{"name":"hist"},"transform":[{"filter":"datum.c=='b' && datum.p=='od'"}],"mark":{"type":"bar","color":"#555555"},"encoding":{"x":{"field":"x0","type":"quantitative","scale":{"domain":[0,900],"nice":false},"axis":{"values":[0,500],"title":"Org. deep","labelFontSize":3.5,"titleFontSize":3,"tickSize":1.5,"labelPadding":0.5,"titlePadding":1,"domain":true,"domainWidth":0.5,"domainColor":"#666"}},"x2":{"field":"x1"},"y":{"field":"n","type":"quantitative","scale":{"domain":[0,1],"nice":false},"axis":{"labels":false,"ticks":false,"title":null,"domain":true,"domainWidth":0.5,"domainColor":"#666"}}}},
{"width":13.5,"height":16,"view":{"stroke":null},"data":{"name":"hist"},"transform":[{"filter":"datum.c=='b' && datum.p=='cd'"}],"mark":{"type":"bar","color":"#2a2aa8"},"encoding":{"x":{"field":"x0","type":"quantitative","scale":{"domain":[0,900],"nice":false},"axis":{"values":[0,500],"title":"CaCO3_deep","labelFontSize":3.5,"titleFontSize":3,"tickSize":1.5,"labelPadding":0.5,"titlePadding":1,"domain":true,"domainWidth":0.5,"domainColor":"#666"}},"x2":{"field":"x1"},"y":{"field":"n","type":"quantitative","scale":{"domain":[0,1],"nice":false},"axis":{"labels":false,"ticks":false,"title":null,"domain":true,"domainWidth":0.5,"domainColor":"#666"}}}},
{"width":13.5,"height":16,"view":{"stroke":null},"data":{"name":"hist"},"transform":[{"filter":"datum.c=='c' && datum.p=='os'"}],"mark":{"type":"bar","color":"#555555"},"encoding":{"x":{"field":"x0","type":"quantitative","scale":{"domain":[0,900],"nice":false},"axis":{"values":[0,500],"title":"Org. shallows","labelFontSize":3.5,"titleFontSize":3,"tickSize":1.5,"labelPadding":0.5,"titlePadding":1,"domain":true,"domainWidth":0.5,"domainColor":"#666"}},"x2":{"field":"x1"},"y":{"field":"n","type":"quantitative","scale":{"domain":[0,1],"nice":false},"axis":{"labels":false,"ticks":false,"title":null,"domain":true,"domainWidth":0.5,"domainColor":"#666"}}}},
{"width":13.5,"height":16,"view":{"stroke":null},"data":{"name":"hist"},"transform":[{"filter":"datum.c=='c' && datum.p=='cs'"}],"mark":{"type":"bar","color":"#2a2aa8"},"encoding":{"x":{"field":"x0","type":"quantitative","scale":{"domain":[0,900],"nice":false},"axis":{"values":[0,500],"title":"CaCO3_shallows","labelFontSize":3.5,"titleFontSize":3,"tickSize":1.5,"labelPadding":0.5,"titlePadding":1,"domain":true,"domainWidth":0.5,"domainColor":"#666"}},"x2":{"field":"x1"},"y":{"field":"n","type":"quantitative","scale":{"domain":[0,1],"nice":false},"axis":{"labels":false,"ticks":false,"title":null,"domain":true,"domainWidth":0.5,"domainColor":"#666"}}}},
{"width":13.5,"height":16,"view":{"stroke":null},"data":{"name":"hist"},"transform":[{"filter":"datum.c=='c' && datum.p=='od'"}],"mark":{"type":"bar","color":"#555555"},"encoding":{"x":{"field":"x0","type":"quantitative","scale":{"domain":[0,900],"nice":false},"axis":{"values":[0,500],"title":"Org. deep","labelFontSize":3.5,"titleFontSize":3,"tickSize":1.5,"labelPadding":0.5,"titlePadding":1,"domain":true,"domainWidth":0.5,"domainColor":"#666"}},"x2":{"field":"x1"},"y":{"field":"n","type":"quantitative","scale":{"domain":[0,1],"nice":false},"axis":{"labels":false,"ticks":false,"title":null,"domain":true,"domainWidth":0.5,"domainColor":"#666"}}}},
{"width":13.5,"height":16,"view":{"stroke":null},"data":{"name":"hist"},"transform":[{"filter":"datum.c=='c' && datum.p=='cd'"}],"mark":{"type":"bar","color":"#2a2aa8"},"encoding":{"x":{"field":"x0","type":"quantitative","scale":{"domain":[0,900],"nice":false},"axis":{"values":[0,500],"title":"CaCO3_deep","labelFontSize":3.5,"titleFontSize":3,"tickSize":1.5,"labelPadding":0.5,"titlePadding":1,"domain":true,"domainWidth":0.5,"domainColor":"#666"}},"x2":{"field":"x1"},"y":{"field":"n","type":"quantitative","scale":{"domain":[0,1],"nice":false},"axis":{"labels":false,"ticks":false,"title":null,"domain":true,"domainWidth":0.5,"domainColor":"#666"}}}}
],"spacing":12,"bounds":"flush"}
],
"datasets":{
"bands":[{"k":"yel","x0":0,"x1":12},{"k":"blu","x0":18,"x1":27},{"k":"blu","x0":58,"x1":74},{"k":"yel","x0":118,"x1":127}],
"mk":[{"c":"a","x":20,"l":-0.5,"h":-0.22},{"c":"b","x":19.5,"l":-0.45,"h":-0.15},{"c":"c","x":20,"l":-0.35,"h":-0.07}],
"txt":[
{"c":"a","g":"cb","s":"grn","x":70,"y":395,"t":"Background carbon inputs"},
{"c":"a","g":"cb","s":"red","x":51,"y":215,"t":"Deglacial pulse"},
{"c":"a","g":"cb","s":"cyn","x":70,"y":95,"t":"Net C source (PgC kyr⁻¹)"},
{"c":"a","g":"cb","s":"org","x":70,"y":-115,"t":"Organic carbon burial"},
{"c":"a","g":"cb","s":"inorg","x":66,"y":-460,"t":"Inorganic carbon burial"},
{"c":"a","g":"d13","x":69,"y":-0.67,"t":"δ¹³C (‰)"},
{"c":"a","g":"dic","x":68,"y":2120,"t":"DIC (μmol kg⁻¹)"},
{"c":"a","g":"alk","x":61,"y":2262,"t":"Alkalinity (μequ kg⁻¹)"},
{"c":"a","g":"co3","x":68,"y":99,"t":"CO₃²⁻ (μmol kg⁻¹)"}],
"cb":[
{"c":"a","s":"grn","x":0,"m":465,"l":442,"h":488},{"c":"a","s":"grn","x":127,"m":465,"l":442,"h":488},
{"c":"a","s":"red","x":0,"m":45,"l":39,"h":51},{"c":"a","s":"red","x":2,"m":55,"l":49,"h":61},{"c":"a","s":"red","x":3,"m":90,"l":84,"h":96},{"c":"a","s":"red","x":4,"m":170,"l":164,"h":176},{"c":"a","s":"red","x":5,"m":185,"l":179,"h":191},{"c":"a","s":"red","x":6,"m":95,"l":89,"h":101},{"c":"a","s":"red","x":7,"m":85,"l":79,"h":91},{"c":"a","s":"red","x":8,"m":110,"l":104,"h":116},{"c":"a","s":"red","x":9,"m":180,"l":174,"h":186},{"c":"a","s":"red","x":10,"m":200,"l":194,"h":206},{"c":"a","s":"red","x":11,"m":120,"l":114,"h":126},{"c":"a","s":"red","x":12,"m":70,"l":64,"h":76},{"c":"a","s":"red","x":14,"m":50,"l":44,"h":56},{"c":"a","s":"red","x":20,"m":45,"l":39,"h":51},{"c":"a","s":"red","x":60,"m":45,"l":39,"h":51},{"c":"a","s":"red","x":110,"m":45,"l":39,"h":51},{"c":"a","s":"red","x":120,"m":48,"l":42,"h":54},{"c":"a","s":"red","x":125,"m":55,"l":49,"h":61},{"c":"a","s":"red","x":127,"m":65,"l":59,"h":71},
{"c":"a","s":"cyn","x":0,"m":15},{"c":"a","s":"cyn","x":2,"m":25},{"c":"a","s":"cyn","x":3,"m":60},{"c":"a","s":"cyn","x":4,"m":130},{"c":"a","s":"cyn","x":5,"m":150},{"c":"a","s":"cyn","x":6,"m":70},{"c":"a","s":"cyn","x":7,"m":60},{"c":"a","s":"cyn","x":8,"m":80},{"c":"a","s":"cyn","x":9,"m":130},{"c":"a","s":"cyn","x":10,"m":140},{"c":"a","s":"cyn","x":11,"m":70},{"c":"a","s":"cyn","x":12,"m":20},{"c":"a","s":"cyn","x":14,"m":0},{"c":"a","s":"cyn","x":17,"m":-5},{"c":"a","s":"cyn","x":20,"m":5},{"c":"a","s":"cyn","x":30,"m":15},{"c":"a","s":"cyn","x":45,"m":18},{"c":"a","s":"cyn","x":60,"m":15},{"c":"a","s":"cyn","x":80,"m":10},{"c":"a","s":"cyn","x":100,"m":5},{"c":"a","s":"cyn","x":115,"m":2},{"c":"a","s":"cyn","x":122,"m":5},{"c":"a","s":"cyn","x":125,"m":12},{"c":"a","s":"cyn","x":127,"m":25},
{"c":"a","s":"org","x":0,"m":-220},{"c":"a","s":"org","x":127,"m":-220},
{"c":"a","s":"inorg","x":0,"m":-275},{"c":"a","s":"inorg","x":127,"m":-275},
{"c":"b","s":"grn","x":0,"m":462,"l":440,"h":485,"L":400,"H":515},{"c":"b","s":"grn","x":127,"m":462,"l":440,"h":485,"L":400,"H":515},
{"c":"b","s":"red","x":0,"m":40,"l":34,"h":46},{"c":"b","s":"red","x":2,"m":50,"l":44,"h":56},{"c":"b","s":"red","x":4,"m":90,"l":75,"h":105},{"c":"b","s":"red","x":6,"m":150,"l":120,"h":180},{"c":"b","s":"red","x":8,"m":210,"l":170,"h":250},{"c":"b","s":"red","x":9,"m":230,"l":190,"h":265},{"c":"b","s":"red","x":10,"m":220,"l":180,"h":255},{"c":"b","s":"red","x":11,"m":170,"l":130,"h":210},{"c":"b","s":"red","x":12,"m":110,"l":80,"h":140},{"c":"b","s":"red","x":13,"m":70,"l":55,"h":90},{"c":"b","s":"red","x":15,"m":50,"l":42,"h":58},{"c":"b","s":"red","x":20,"m":48,"l":42,"h":54},{"c":"b","s":"red","x":30,"m":52,"l":46,"h":58},{"c":"b","s":"red","x":40,"m":47,"l":41,"h":53},{"c":"b","s":"red","x":50,"m":53,"l":47,"h":59},{"c":"b","s":"red","x":60,"m":48,"l":42,"h":54},{"c":"b","s":"red","x":70,"m":52,"l":46,"h":58},{"c":"b","s":"red","x":80,"m":47,"l":41,"h":53},{"c":"b","s":"red","x":90,"m":53,"l":47,"h":59},{"c":"b","s":"red","x":100,"m":48,"l":42,"h":54},{"c":"b","s":"red","x":110,"m":52,"l":46,"h":58},{"c":"b","s":"red","x":120,"m":50,"l":44,"h":56},{"c":"b","s":"red","x":125,"m":55,"l":49,"h":61},{"c":"b","s":"red","x":127,"m":62,"l":56,"h":68},
{"c":"b","s":"cyn","x":0,"m":10,"l":0,"h":20},{"c":"b","s":"cyn","x":2,"m":20,"l":8,"h":32},{"c":"b","s":"cyn","x":4,"m":60,"l":40,"h":80},{"c":"b","s":"cyn","x":6,"m":110,"l":85,"h":135},{"c":"b","s":"cyn","x":8,"m":150,"l":120,"h":180},{"c":"b","s":"cyn","x":9,"m":155,"l":125,"h":185},{"c":"b","s":"cyn","x":10,"m":140,"l":110,"h":170},{"c":"b","s":"cyn","x":11,"m":100,"l":75,"h":125},{"c":"b","s":"cyn","x":12,"m":50,"l":30,"h":70},{"c":"b","s":"cyn","x":13,"m":10,"l":-8,"h":28},{"c":"b","s":"cyn","x":15,"m":-25,"l":-42,"h":-8},{"c":"b","s":"cyn","x":17,"m":-35,"l":-52,"h":-18},{"c":"b","s":"cyn","x":19,"m":-20,"l":-36,"h":-4},{"c":"b","s":"cyn","x":22,"m":-5,"l":-20,"h":10},{"c":"b","s":"cyn","x":25,"m":5,"l":-10,"h":20},{"c":"b","s":"cyn","x":30,"m":10,"l":-5,"h":25},{"c":"b","s":"cyn","x":35,"m":15,"l":0,"h":30},{"c":"b","s":"cyn","x":40,"m":8,"l":-7,"h":23},{"c":"b","s":"cyn","x":45,"m":12,"l":-3,"h":27},{"c":"b","s":"cyn","x":50,"m":3,"l":-12,"h":18},{"c":"b","s":"cyn","x":55,"m":8,"l":-7,"h":23},{"c":"b","s":"cyn","x":60,"m":0,"l":-15,"h":15},{"c":"b","s":"cyn","x":65,"m":6,"l":-9,"h":21},{"c":"b","s":"cyn","x":70,"m":12,"l":-3,"h":27},{"c":"b","s":"cyn","x":75,"m":5,"l":-10,"h":20},{"c":"b","s":"cyn","x":80,"m":8,"l":-7,"h":23},{"c":"b","s":"cyn","x":85,"m":0,"l":-15,"h":15},{"c":"b","s":"cyn","x":90,"m":4,"l":-11,"h":19},{"c":"b","s":"cyn","x":95,"m":-3,"l":-18,"h":12},{"c":"b","s":"cyn","x":100,"m":5,"l":-10,"h":20},{"c":"b","s":"cyn","x":105,"m":0,"l":-15,"h":15},{"c":"b","s":"cyn","x":110,"m":-5,"l":-20,"h":10},{"c":"b","s":"cyn","x":115,"m":2,"l":-13,"h":17},{"c":"b","s":"cyn","x":120,"m":-6,"l":-21,"h":9},{"c":"b","s":"cyn","x":124,"m":0,"l":-15,"h":15},{"c":"b","s":"cyn","x":127,"m":12,"l":-3,"h":27},
{"c":"b","s":"org","x":0,"m":-175,"l":-187,"h":-163,"L":-205,"H":-145},{"c":"b","s":"org","x":5,"m":-175,"l":-187,"h":-163,"L":-205,"H":-145},{"c":"b","s":"org","x":10,"m":-180,"l":-192,"h":-168,"L":-210,"H":-150},{"c":"b","s":"org","x":13,"m":-195,"l":-207,"h":-183,"L":-235,"H":-160},{"c":"b","s":"org","x":16,"m":-215,"l":-230,"h":-200,"L":-265,"H":-180},{"c":"b","s":"org","x":18,"m":-222,"l":-237,"h":-207,"L":-272,"H":-185},{"c":"b","s":"org","x":20,"m":-218,"l":-233,"h":-203,"L":-265,"H":-182},{"c":"b","s":"org","x":23,"m":-200,"l":-212,"h":-188,"L":-240,"H":-168},{"c":"b","s":"org","x":27,"m":-182,"l":-194,"h":-170,"L":-212,"H":-152},{"c":"b","s":"org","x":35,"m":-172,"l":-184,"h":-160,"L":-202,"H":-142},{"c":"b","s":"org","x":50,"m":-168,"l":-180,"h":-156,"L":-198,"H":-138},{"c":"b","s":"org","x":65,"m":-165,"l":-177,"h":-153,"L":-195,"H":-135},{"c":"b","s":"org","x":80,"m":-170,"l":-182,"h":-158,"L":-200,"H":-140},{"c":"b","s":"org","x":100,"m":-174,"l":-186,"h":-162,"L":-204,"H":-144},{"c":"b","s":"org","x":115,"m":-176,"l":-188,"h":-164,"L":-206,"H":-146},{"c":"b","s":"org","x":127,"m":-176,"l":-188,"h":-164,"L":-206,"H":-146},
{"c":"b","s":"inorg","x":0,"m":-255,"l":-267,"h":-243,"L":-285,"H":-225},{"c":"b","s":"inorg","x":10,"m":-260,"l":-272,"h":-248,"L":-290,"H":-230},{"c":"b","s":"inorg","x":20,"m":-252,"l":-264,"h":-240,"L":-282,"H":-222},{"c":"b","s":"inorg","x":30,"m":-248,"l":-260,"h":-236,"L":-278,"H":-218},{"c":"b","s":"inorg","x":40,"m":-254,"l":-266,"h":-242,"L":-284,"H":-224},{"c":"b","s":"inorg","x":50,"m":-246,"l":-258,"h":-234,"L":-276,"H":-216},{"c":"b","s":"inorg","x":60,"m":-243,"l":-255,"h":-231,"L":-273,"H":-213},{"c":"b","s":"inorg","x":70,"m":-250,"l":-262,"h":-238,"L":-280,"H":-220},{"c":"b","s":"inorg","x":80,"m":-256,"l":-268,"h":-244,"L":-286,"H":-226},{"c":"b","s":"inorg","x":90,"m":-250,"l":-262,"h":-238,"L":-280,"H":-220},{"c":"b","s":"inorg","x":100,"m":-258,"l":-270,"h":-246,"L":-288,"H":-228},{"c":"b","s":"inorg","x":110,"m":-252,"l":-264,"h":-240,"L":-282,"H":-222},{"c":"b","s":"inorg","x":120,"m":-258,"l":-270,"h":-246,"L":-288,"H":-228},{"c":"b","s":"inorg","x":127,"m":-255,"l":-267,"h":-243,"L":-285,"H":-225},
{"c":"c","s":"grn","x":0,"m":340,"l":295,"h":390,"L":220,"H":462},{"c":"c","s":"grn","x":127,"m":340,"l":295,"h":390,"L":220,"H":462},
{"c":"c","s":"red","x":0,"m":20,"l":14,"h":26},{"c":"c","s":"red","x":2,"m":40,"l":32,"h":48},{"c":"c","s":"red","x":4,"m":90,"l":75,"h":105},{"c":"c","s":"red","x":6,"m":160,"l":135,"h":185},{"c":"c","s":"red","x":8,"m":220,"l":190,"h":250},{"c":"c","s":"red","x":9,"m":240,"l":210,"h":270},{"c":"c","s":"red","x":10,"m":210,"l":180,"h":240},{"c":"c","s":"red","x":11,"m":150,"l":125,"h":175},{"c":"c","s":"red","x":12,"m":90,"l":75,"h":105},{"c":"c","s":"red","x":13,"m":60,"l":52,"h":68},{"c":"c","s":"red","x":15,"m":50,"l":44,"h":56},{"c":"c","s":"red","x":20,"m":48,"l":42,"h":54},{"c":"c","s":"red","x":40,"m":50,"l":44,"h":56},{"c":"c","s":"red","x":60,"m":52,"l":46,"h":58},{"c":"c","s":"red","x":80,"m":48,"l":42,"h":54},{"c":"c","s":"red","x":100,"m":50,"l":44,"h":56},{"c":"c","s":"red","x":120,"m":52,"l":46,"h":58},{"c":"c","s":"red","x":125,"m":55,"l":49,"h":61},{"c":"c","s":"red","x":127,"m":60,"l":54,"h":66},
{"c":"c","s":"cyn","x":0,"m":0,"l":-15,"h":15},{"c":"c","s":"cyn","x":3,"m":15,"l":0,"h":30},{"c":"c","s":"cyn","x":6,"m":35,"l":20,"h":50},{"c":"c","s":"cyn","x":9,"m":55,"l":40,"h":70},{"c":"c","s":"cyn","x":12,"m":70,"l":55,"h":85},{"c":"c","s":"cyn","x":15,"m":75,"l":60,"h":90},{"c":"c","s":"cyn","x":20,"m":65,"l":50,"h":80},{"c":"c","s":"cyn","x":30,"m":58,"l":43,"h":73},{"c":"c","s":"cyn","x":40,"m":60,"l":45,"h":75},{"c":"c","s":"cyn","x":50,"m":62,"l":47,"h":77},{"c":"c","s":"cyn","x":55,"m":70,"l":55,"h":85},{"c":"c","s":"cyn","x":58,"m":90,"l":75,"h":105},{"c":"c","s":"cyn","x":62,"m":100,"l":85,"h":115},{"c":"c","s":"cyn","x":66,"m":95,"l":80,"h":110},{"c":"c","s":"cyn","x":70,"m":75,"l":60,"h":90},{"c":"c","s":"cyn","x":75,"m":60,"l":45,"h":75},{"c":"c","s":"cyn","x":80,"m":55,"l":40,"h":70},{"c":"c","s":"cyn","x":85,"m":52,"l":37,"h":67},{"c":"c","s":"cyn","x":88,"m":70,"l":55,"h":85},{"c":"c","s":"cyn","x":91,"m":55,"l":40,"h":70},{"c":"c","s":"cyn","x":95,"m":35,"l":20,"h":50},{"c":"c","s":"cyn","x":100,"m":20,"l":5,"h":35},{"c":"c","s":"cyn","x":105,"m":10,"l":-5,"h":25},{"c":"c","s":"cyn","x":110,"m":0,"l":-15,"h":15},{"c":"c","s":"cyn","x":115,"m":-15,"l":-30,"h":0},{"c":"c","s":"cyn","x":120,"m":-35,"l":-50,"h":-20},{"c":"c","s":"cyn","x":124,"m":-60,"l":-75,"h":-45},{"c":"c","s":"cyn","x":127,"m":-75,"l":-90,"h":-60},
{"c":"c","s":"org","x":0,"m":-140,"l":-158,"h":-122,"L":-185,"H":-95},{"c":"c","s":"org","x":10,"m":-135,"l":-153,"h":-117,"L":-180,"H":-90},{"c":"c","s":"org","x":20,"m":-130,"l":-148,"h":-112,"L":-175,"H":-85},{"c":"c","s":"org","x":30,"m":-125,"l":-143,"h":-107,"L":-170,"H":-80},{"c":"c","s":"org","x":40,"m":-120,"l":-138,"h":-102,"L":-165,"H":-75},{"c":"c","s":"org","x":50,"m":-118,"l":-136,"h":-100,"L":-163,"H":-73},{"c":"c","s":"org","x":60,"m":-115,"l":-133,"h":-97,"L":-160,"H":-70},{"c":"c","s":"org","x":70,"m":-118,"l":-136,"h":-100,"L":-163,"H":-73},{"c":"c","s":"org","x":80,"m":-122,"l":-140,"h":-104,"L":-167,"H":-77},{"c":"c","s":"org","x":90,"m":-128,"l":-146,"h":-110,"L":-173,"H":-83},{"c":"c","s":"org","x":100,"m":-135,"l":-153,"h":-117,"L":-180,"H":-90},{"c":"c","s":"org","x":110,"m":-145,"l":-163,"h":-127,"L":-190,"H":-100},{"c":"c","s":"org","x":120,"m":-160,"l":-178,"h":-142,"L":-205,"H":-115},{"c":"c","s":"org","x":127,"m":-170,"l":-188,"h":-152,"L":-215,"H":-125},
{"c":"c","s":"inorg","x":0,"m":-275,"l":-300,"h":-250,"L":-330,"H":-220},{"c":"c","s":"inorg","x":10,"m":-270,"l":-295,"h":-245,"L":-325,"H":-215},{"c":"c","s":"inorg","x":20,"m":-262,"l":-287,"h":-237,"L":-317,"H":-207},{"c":"c","s":"inorg","x":30,"m":-255,"l":-280,"h":-230,"L":-310,"H":-200},{"c":"c","s":"inorg","x":40,"m":-248,"l":-273,"h":-223,"L":-303,"H":-193},{"c":"c","s":"inorg","x":50,"m":-242,"l":-267,"h":-217,"L":-297,"H":-187},{"c":"c","s":"inorg","x":60,"m":-238,"l":-263,"h":-213,"L":-293,"H":-183},{"c":"c","s":"inorg","x":70,"m":-240,"l":-265,"h":-215,"L":-295,"H":-185},{"c":"c","s":"inorg","x":80,"m":-245,"l":-270,"h":-220,"L":-300,"H":-190},{"c":"c","s":"inorg","x":90,"m":-252,"l":-277,"h":-227,"L":-307,"H":-197},{"c":"c","s":"inorg","x":100,"m":-260,"l":-285,"h":-235,"L":-315,"H":-205},{"c":"c","s":"inorg","x":110,"m":-270,"l":-295,"h":-245,"L":-325,"H":-215},{"c":"c","s":"inorg","x":120,"m":-282,"l":-307,"h":-257,"L":-337,"H":-227},{"c":"c","s":"inorg","x":127,"m":-290,"l":-315,"h":-265,"L":-345,"H":-235}
],
"d13":[
{"c":"a","x":0,"m":-0.04,"l":-0.06,"h":-0.02},{"c":"a","x":4,"m":0,"l":-0.02,"h":0.02},{"c":"a","x":8,"m":0.05,"l":0.03,"h":0.07},{"c":"a","x":12,"m":0.07,"l":0.05,"h":0.09},{"c":"a","x":20,"m":0.07,"l":0.05,"h":0.09},{"c":"a","x":40,"m":0.06,"l":0.04,"h":0.08},{"c":"a","x":60,"m":0.05,"l":0.03,"h":0.07},{"c":"a","x":80,"m":0.04,"l":0.02,"h":0.06},{"c":"a","x":100,"m":0.03,"l":0.01,"h":0.05},{"c":"a","x":127,"m":0,"l":-0.02,"h":0.02},
{"c":"b","x":0,"m":0.08,"l":0.07,"h":0.09,"L":0.05,"H":0.11},{"c":"b","x":4,"m":0.15,"l":0.13,"h":0.17,"L":0.105,"H":0.195},{"c":"b","x":8,"m":0.25,"l":0.22,"h":0.28,"L":0.19,"H":0.31},{"c":"b","x":12,"m":0.22,"l":0.185,"h":0.255,"L":0.14,"H":0.3},{"c":"b","x":16,"m":0.14,"l":0.095,"h":0.185,"L":0.04,"H":0.24},{"c":"b","x":20,"m":0.06,"l":0.01,"h":0.11,"L":-0.06,"H":0.18},{"c":"b","x":25,"m":0,"l":-0.055,"h":0.055,"L":-0.14,"H":0.14},{"c":"b","x":30,"m":-0.05,"l":-0.11,"h":0.01,"L":-0.21,"H":0.11},{"c":"b","x":40,"m":-0.1,"l":-0.18,"h":-0.02,"L":-0.3,"H":0.1},{"c":"b","x":50,"m":-0.13,"l":-0.22,"h":-0.04,"L":-0.36,"H":0.1},{"c":"b","x":60,"m":-0.15,"l":-0.25,"h":-0.05,"L":-0.4,"H":0.1},{"c":"b","x":70,"m":-0.15,"l":-0.245,"h":-0.055,"L":-0.39,"H":0.09},{"c":"b","x":80,"m":-0.13,"l":-0.22,"h":-0.04,"L":-0.35,"H":0.09},{"c":"b","x":90,"m":-0.1,"l":-0.175,"h":-0.025,"L":-0.29,"H":0.09},{"c":"b","x":100,"m":-0.07,"l":-0.13,"h":-0.01,"L":-0.22,"H":0.08},{"c":"b","x":110,"m":-0.04,"l":-0.085,"h":0.005,"L":-0.15,"H":0.07},{"c":"b","x":120,"m":-0.01,"l":-0.04,"h":0.02,"L":-0.08,"H":0.06},{"c":"b","x":127,"m":0,"l":-0.02,"h":0.02,"L":-0.04,"H":0.04},
{"c":"c","x":0,"m":-0.05,"l":-0.07,"h":-0.03,"L":-0.09,"H":-0.01},{"c":"c","x":5,"m":-0.08,"l":-0.11,"h":-0.05,"L":-0.14,"H":-0.02},{"c":"c","x":10,"m":-0.1,"l":-0.14,"h":-0.06,"L":-0.17,"H":-0.03},{"c":"c","x":15,"m":-0.13,"l":-0.18,"h":-0.08,"L":-0.22,"H":-0.04},{"c":"c","x":20,"m":-0.14,"l":-0.2,"h":-0.08,"L":-0.24,"H":-0.04},{"c":"c","x":25,"m":-0.13,"l":-0.195,"h":-0.065,"L":-0.24,"H":-0.02},{"c":"c","x":30,"m":-0.1,"l":-0.17,"h":-0.03,"L":-0.22,"H":0.02},{"c":"c","x":40,"m":-0.03,"l":-0.11,"h":0.05,"L":-0.18,"H":0.12},{"c":"c","x":50,"m":0.06,"l":-0.03,"h":0.15,"L":-0.11,"H":0.23},{"c":"c","x":60,"m":0.14,"l":0.04,"h":0.24,"L":-0.06,"H":0.34},{"c":"c","x":70,"m":0.21,"l":0.1,"h":0.32,"L":-0.01,"H":0.43},{"c":"c","x":80,"m":0.27,"l":0.15,"h":0.39,"L":0.02,"H":0.52},{"c":"c","x":90,"m":0.3,"l":0.18,"h":0.42,"L":0.05,"H":0.55},{"c":"c","x":100,"m":0.29,"l":0.17,"h":0.41,"L":0.04,"H":0.54},{"c":"c","x":110,"m":0.22,"l":0.13,"h":0.31,"L":0.04,"H":0.4},{"c":"c","x":120,"m":0.1,"l":0.04,"h":0.16,"L":-0.02,"H":0.22},{"c":"c","x":127,"m":0.02,"l":-0.01,"h":0.05,"L":-0.03,"H":0.07}
],
"dic":[
{"c":"a","x":0,"m":2285,"l":2283,"h":2287},{"c":"a","x":3,"m":2270,"l":2255,"h":2273},{"c":"a","x":6,"m":2245,"l":2220,"h":2250},{"c":"a","x":9,"m":2228,"l":2198,"h":2233},{"c":"a","x":12,"m":2224,"l":2196,"h":2229},{"c":"a","x":16,"m":2226,"l":2205,"h":2230},{"c":"a","x":25,"m":2230,"l":2218,"h":2234},{"c":"a","x":40,"m":2237,"l":2230,"h":2240},{"c":"a","x":60,"m":2246,"l":2242,"h":2249},{"c":"a","x":80,"m":2254,"l":2250,"h":2257},{"c":"a","x":100,"m":2262,"l":2259,"h":2265},{"c":"a","x":127,"m":2272,"l":2270,"h":2275},
{"c":"b","x":0,"m":2280,"l":2274,"h":2286,"L":2272,"H":2288},{"c":"b","x":5,"m":2262,"l":2256,"h":2268,"L":2252,"H":2272},{"c":"b","x":10,"m":2250,"l":2244,"h":2256,"L":2238,"H":2262},{"c":"b","x":15,"m":2256,"l":2250,"h":2262,"L":2242,"H":2270},{"c":"b","x":20,"m":2268,"l":2262,"h":2274,"L":2252,"H":2284},{"c":"b","x":30,"m":2284,"l":2278,"h":2290,"L":2266,"H":2302},{"c":"b","x":40,"m":2292,"l":2286,"h":2298,"L":2272,"H":2312},{"c":"b","x":50,"m":2290,"l":2284,"h":2296,"L":2271,"H":2309},{"c":"b","x":60,"m":2276,"l":2270,"h":2282,"L":2258,"H":2294},{"c":"b","x":70,"m":2262,"l":2256,"h":2268,"L":2245,"H":2279},{"c":"b","x":80,"m":2262,"l":2256,"h":2268,"L":2247,"H":2277},{"c":"b","x":90,"m":2268,"l":2262,"h":2274,"L":2254,"H":2282},{"c":"b","x":100,"m":2275,"l":2269,"h":2281,"L":2263,"H":2287},{"c":"b","x":110,"m":2280,"l":2274,"h":2286,"L":2270,"H":2290},{"c":"b","x":120,"m":2284,"l":2278,"h":2290,"L":2275,"H":2293},{"c":"b","x":127,"m":2286,"l":2280,"h":2292,"L":2278,"H":2294},
{"c":"c","x":0,"m":2325,"l":2318,"h":2332,"L":2307,"H":2343},{"c":"c","x":5,"m":2335,"l":2328,"h":2342,"L":2317,"H":2353},{"c":"c","x":10,"m":2342,"l":2335,"h":2349,"L":2324,"H":2360},{"c":"c","x":15,"m":2338,"l":2331,"h":2345,"L":2320,"H":2356},{"c":"c","x":20,"m":2328,"l":2321,"h":2335,"L":2310,"H":2346},{"c":"c","x":30,"m":2305,"l":2298,"h":2312,"L":2287,"H":2323},{"c":"c","x":40,"m":2278,"l":2271,"h":2285,"L":2260,"H":2296},{"c":"c","x":50,"m":2250,"l":2243,"h":2257,"L":2232,"H":2268},{"c":"c","x":60,"m":2222,"l":2215,"h":2229,"L":2204,"H":2240},{"c":"c","x":70,"m":2195,"l":2188,"h":2202,"L":2177,"H":2213},{"c":"c","x":80,"m":2192,"l":2185,"h":2199,"L":2174,"H":2210},{"c":"c","x":90,"m":2205,"l":2198,"h":2212,"L":2187,"H":2223},{"c":"c","x":100,"m":2220,"l":2213,"h":2227,"L":2202,"H":2238},{"c":"c","x":110,"m":2240,"l":2233,"h":2247,"L":2222,"H":2258},{"c":"c","x":120,"m":2262,"l":2255,"h":2269,"L":2244,"H":2280},{"c":"c","x":127,"m":2280,"l":2273,"h":2287,"L":2262,"H":2298}
],
"alk":[
{"c":"a","x":0,"m":2378},{"c":"a","x":127,"m":2378},
{"c":"b","x":0,"m":2385,"l":2379,"h":2391,"L":2371,"H":2399},{"c":"b","x":5,"m":2398,"l":2392,"h":2404,"L":2384,"H":2412},{"c":"b","x":10,"m":2405,"l":2399,"h":2411,"L":2391,"H":2419},{"c":"b","x":15,"m":2400,"l":2394,"h":2406,"L":2386,"H":2414},{"c":"b","x":20,"m":2392,"l":2386,"h":2398,"L":2378,"H":2406},{"c":"b","x":30,"m":2382,"l":2376,"h":2388,"L":2368,"H":2396},{"c":"b","x":40,"m":2372,"l":2366,"h":2378,"L":2358,"H":2386},{"c":"b","x":50,"m":2356,"l":2350,"h":2362,"L":2342,"H":2370},{"c":"b","x":60,"m":2336,"l":2330,"h":2342,"L":2322,"H":2350},{"c":"b","x":70,"m":2318,"l":2312,"h":2324,"L":2304,"H":2332},{"c":"b","x":80,"m":2330,"l":2324,"h":2336,"L":2316,"H":2344},{"c":"b","x":90,"m":2350,"l":2344,"h":2356,"L":2336,"H":2364},{"c":"b","x":100,"m":2370,"l":2364,"h":2376,"L":2356,"H":2384},{"c":"b","x":110,"m":2386,"l":2380,"h":2392,"L":2372,"H":2400},{"c":"b","x":120,"m":2398,"l":2392,"h":2404,"L":2384,"H":2412},{"c":"b","x":127,"m":2405,"l":2399,"h":2411,"L":2391,"H":2419},
{"c":"c","x":0,"m":2420,"l":2410,"h":2430,"L":2392,"H":2448},{"c":"c","x":5,"m":2445,"l":2435,"h":2455,"L":2417,"H":2473},{"c":"c","x":10,"m":2462,"l":2452,"h":2472,"L":2434,"H":2490},{"c":"c","x":15,"m":2455,"l":2445,"h":2465,"L":2427,"H":2483},{"c":"c","x":20,"m":2432,"l":2422,"h":2442,"L":2404,"H":2460},{"c":"c","x":30,"m":2382,"l":2372,"h":2392,"L":2354,"H":2410},{"c":"c","x":40,"m":2322,"l":2312,"h":2332,"L":2294,"H":2350},{"c":"c","x":50,"m":2268,"l":2258,"h":2278,"L":2240,"H":2296},{"c":"c","x":60,"m":2228,"l":2218,"h":2238,"L":2200,"H":2256},{"c":"c","x":70,"m":2208,"l":2198,"h":2218,"L":2180,"H":2236},{"c":"c","x":80,"m":2215,"l":2205,"h":2225,"L":2187,"H":2243},{"c":"c","x":90,"m":2240,"l":2230,"h":2250,"L":2212,"H":2268},{"c":"c","x":100,"m":2265,"l":2255,"h":2275,"L":2237,"H":2293},{"c":"c","x":110,"m":2285,"l":2275,"h":2295,"L":2257,"H":2313},{"c":"c","x":120,"m":2300,"l":2290,"h":2310,"L":2272,"H":2328},{"c":"c","x":127,"m":2310,"l":2300,"h":2320,"L":2282,"H":2338}
],
"co3":[
{"c":"a","x":0,"m":170,"l":170,"h":170},{"c":"a","x":5,"m":220,"l":208,"h":232},{"c":"a","x":10,"m":248,"l":230,"h":266},{"c":"a","x":14,"m":252,"l":234,"h":270},{"c":"a","x":20,"m":245,"l":230,"h":260},{"c":"a","x":40,"m":228,"l":217,"h":239},{"c":"a","x":60,"m":212,"l":204,"h":220},{"c":"a","x":80,"m":200,"l":194,"h":206},{"c":"a","x":100,"m":188,"l":184,"h":192},{"c":"a","x":127,"m":176,"l":174,"h":178},
{"c":"b","x":0,"m":170,"l":169,"h":171,"L":168,"H":172},{"c":"b","x":5,"m":230,"l":222,"h":238,"L":212,"H":248},{"c":"b","x":10,"m":266,"l":254,"h":278,"L":236,"H":296},{"c":"b","x":14,"m":264,"l":252,"h":276,"L":234,"H":294},{"c":"b","x":20,"m":250,"l":238,"h":262,"L":220,"H":280},{"c":"b","x":30,"m":223,"l":211,"h":235,"L":191,"H":255},{"c":"b","x":40,"m":196,"l":184,"h":208,"L":162,"H":230},{"c":"b","x":50,"m":170,"l":158,"h":182,"L":134,"H":206},{"c":"b","x":60,"m":145,"l":133,"h":157,"L":107,"H":183},{"c":"b","x":70,"m":122,"l":110,"h":134,"L":84,"H":160},{"c":"b","x":80,"m":130,"l":118,"h":142,"L":96,"H":164},{"c":"b","x":90,"m":145,"l":134,"h":156,"L":117,"H":173},{"c":"b","x":100,"m":158,"l":148,"h":168,"L":136,"H":180},{"c":"b","x":110,"m":166,"l":158,"h":174,"L":150,"H":182},{"c":"b","x":120,"m":172,"l":166,"h":178,"L":162,"H":182},{"c":"b","x":127,"m":176,"l":172,"h":180,"L":168,"H":184},
{"c":"c","x":0,"m":170,"l":169,"h":171,"L":168,"H":172},{"c":"c","x":5,"m":228,"l":221,"h":235,"L":213,"H":243},{"c":"c","x":10,"m":262,"l":252,"h":272,"L":237,"H":287},{"c":"c","x":14,"m":262,"l":252,"h":272,"L":234,"H":290},{"c":"c","x":20,"m":246,"l":236,"h":256,"L":218,"H":274},{"c":"c","x":30,"m":216,"l":206,"h":226,"L":188,"H":244},{"c":"c","x":40,"m":190,"l":180,"h":200,"L":162,"H":218},{"c":"c","x":50,"m":165,"l":155,"h":175,"L":137,"H":193},{"c":"c","x":60,"m":142,"l":132,"h":152,"L":114,"H":170},{"c":"c","x":70,"m":126,"l":116,"h":136,"L":98,"H":154},{"c":"c","x":80,"m":130,"l":120,"h":140,"L":102,"H":158},{"c":"c","x":90,"m":140,"l":130,"h":150,"L":115,"H":165},{"c":"c","x":100,"m":152,"l":143,"h":161,"L":130,"H":174},{"c":"c","x":110,"m":162,"l":154,"h":170,"L":145,"H":179},{"c":"c","x":120,"m":170,"l":164,"h":176,"L":158,"H":182},{"c":"c","x":127,"m":176,"l":172,"h":180,"L":168,"H":184}
],
"hist":[
{"c":"a","p":"os","x0":0,"x1":25,"n":1},{"c":"a","p":"cs","x0":130,"x1":160,"n":1},{"c":"a","p":"od","x0":0,"x1":25,"n":1},{"c":"a","p":"cd","x0":110,"x1":140,"n":1},
{"c":"b","p":"os","x0":0,"x1":25,"n":1},{"c":"b","p":"cs","x0":130,"x1":160,"n":1},
{"c":"b","p":"od","x0":0,"x1":50,"n":1},{"c":"b","p":"od","x0":50,"x1":100,"n":0.5},{"c":"b","p":"od","x0":100,"x1":150,"n":0.25},{"c":"b","p":"od","x0":150,"x1":200,"n":0.1},{"c":"b","p":"od","x0":200,"x1":250,"n":0.04},
{"c":"b","p":"cd","x0":100,"x1":150,"n":0.2},{"c":"b","p":"cd","x0":150,"x1":200,"n":1},{"c":"b","p":"cd","x0":200,"x1":250,"n":0.6},{"c":"b","p":"cd","x0":250,"x1":300,"n":0.2},{"c":"b","p":"cd","x0":300,"x1":350,"n":0.05},
{"c":"c","p":"os","x0":0,"x1":50,"n":1},{"c":"c","p":"os","x0":50,"x1":100,"n":0.9},{"c":"c","p":"os","x0":100,"x1":150,"n":0.75},{"c":"c","p":"os","x0":150,"x1":200,"n":0.6},{"c":"c","p":"os","x0":200,"x1":250,"n":0.45},{"c":"c","p":"os","x0":250,"x1":300,"n":0.35},{"c":"c","p":"os","x0":300,"x1":350,"n":0.25},{"c":"c","p":"os","x0":350,"x1":400,"n":0.18},{"c":"c","p":"os","x0":400,"x1":450,"n":0.1},{"c":"c","p":"os","x0":450,"x1":500,"n":0.06},{"c":"c","p":"os","x0":500,"x1":550,"n":0.03},
{"c":"c","p":"cs","x0":100,"x1":150,"n":0.1},{"c":"c","p":"cs","x0":150,"x1":200,"n":0.5},{"c":"c","p":"cs","x0":200,"x1":250,"n":1},{"c":"c","p":"cs","x0":250,"x1":300,"n":0.7},{"c":"c","p":"cs","x0":300,"x1":350,"n":0.3},{"c":"c","p":"cs","x0":350,"x1":400,"n":0.1},
{"c":"c","p":"od","x0":0,"x1":50,"n":1},{"c":"c","p":"od","x0":50,"x1":100,"n":0.7},{"c":"c","p":"od","x0":100,"x1":150,"n":0.45},{"c":"c","p":"od","x0":150,"x1":200,"n":0.25},{"c":"c","p":"od","x0":200,"x1":250,"n":0.12},{"c":"c","p":"od","x0":250,"x1":300,"n":0.05},
{"c":"c","p":"cd","x0":100,"x1":150,"n":0.2},{"c":"c","p":"cd","x0":150,"x1":200,"n":1},{"c":"c","p":"cd","x0":200,"x1":250,"n":0.6},{"c":"c","p":"cd","x0":250,"x1":300,"n":0.2},{"c":"c","p":"cd","x0":300,"x1":350,"n":0.05}
]
},
"config":{
"font":"Liberation Sans",
"view":{"stroke":"#000","strokeWidth":0.7},
"axis":{"labelFontSize":4.5,"titleFontSize":4.5,"titleFontWeight":"normal","labelColor":"#222","titleColor":"#222","tickSize":1.5,"tickWidth":0.5,"tickColor":"#222","domain":false,"grid":false,"labelPadding":0.5,"titlePadding":1,"labelOverlap":false,"labelFlush":false,"format":"d","minExtent":0},
"axisLeft":{"titlePadding":4},
"axisRight":{"titlePadding":1.5},
"title":{"fontSize":6,"fontWeight":"normal","color":"#111"}
}
}
